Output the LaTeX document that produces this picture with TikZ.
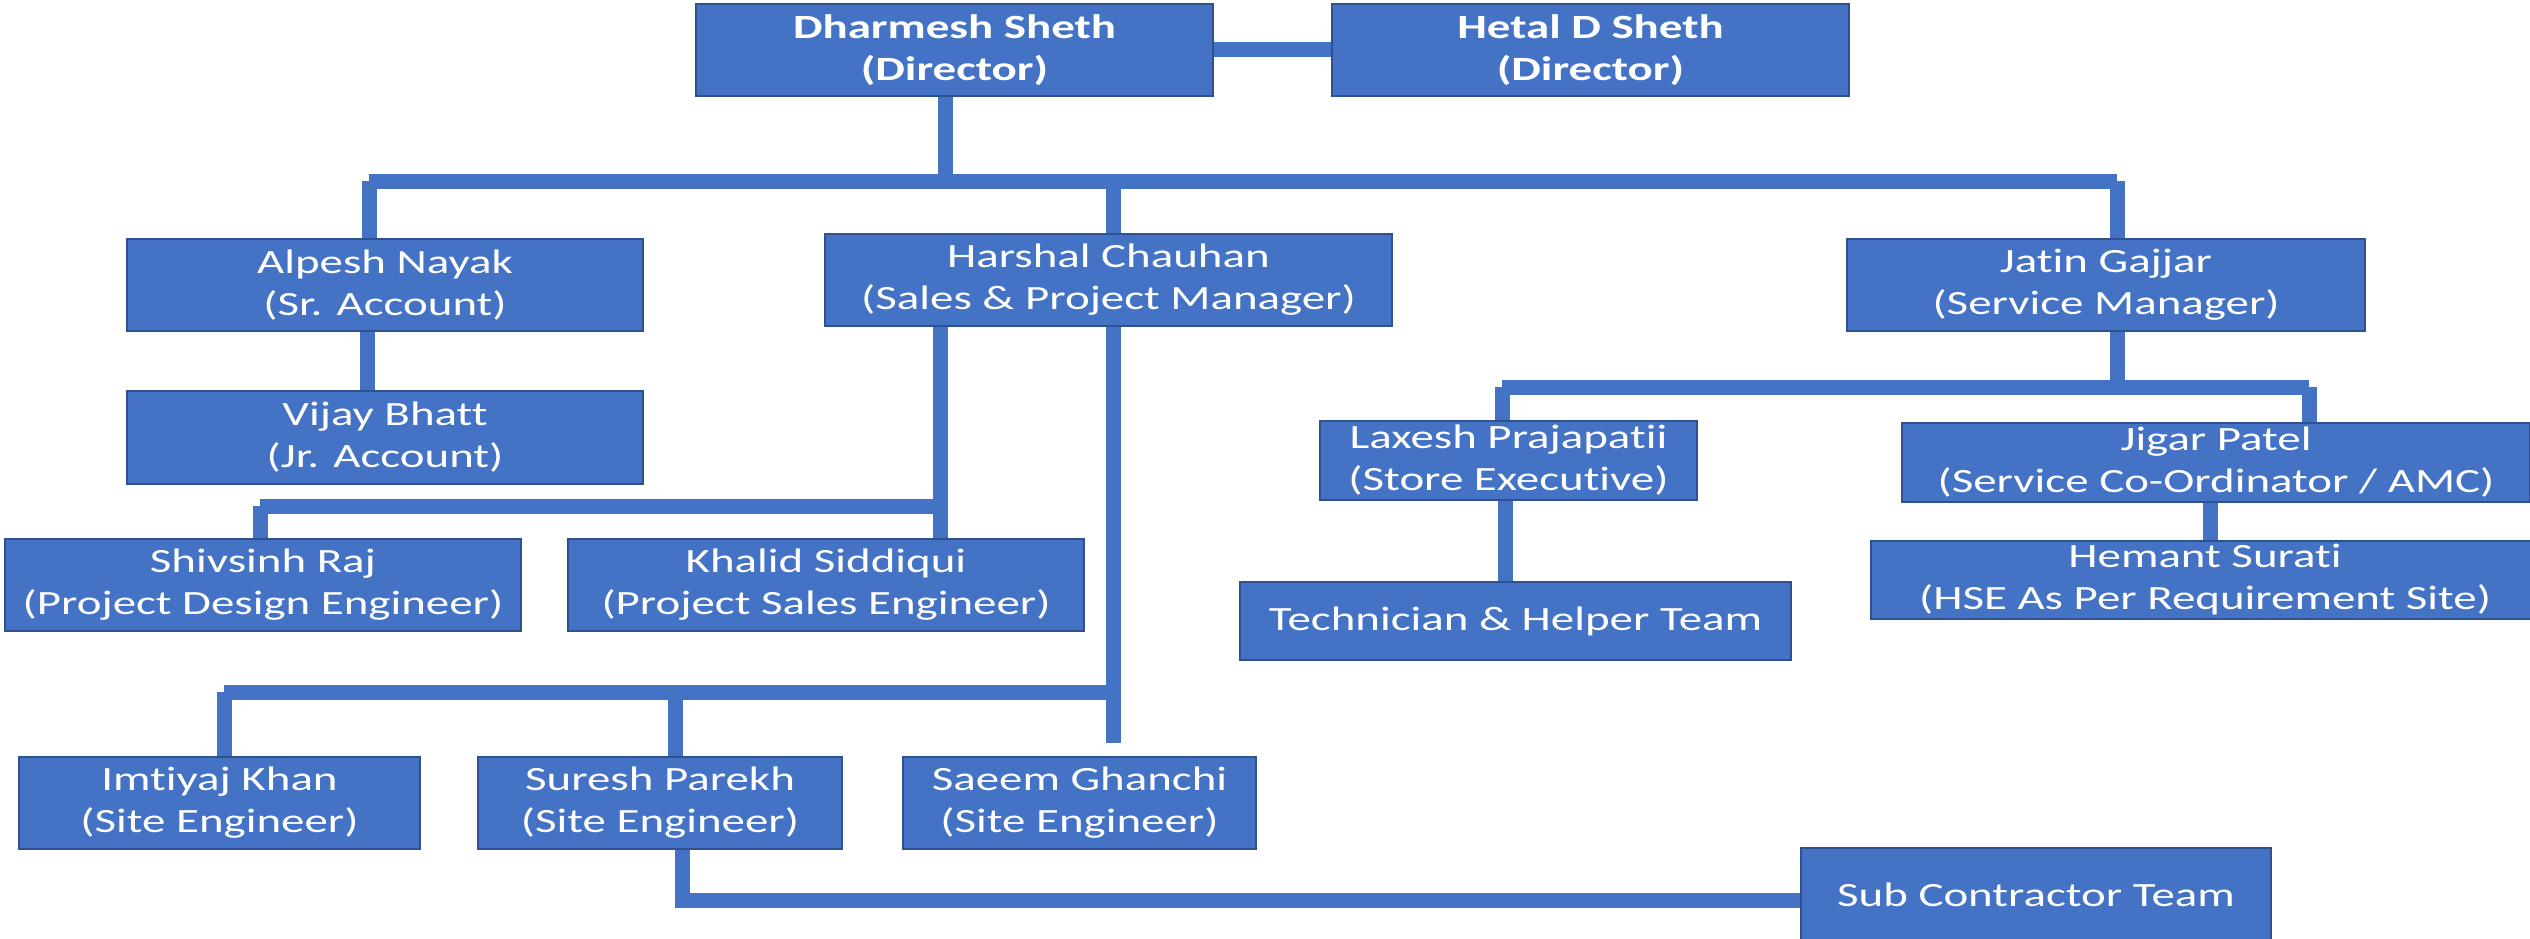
\documentclass[tikz,border=0pt]{standalone}
\usepackage{fontspec}
\setmainfont{Carlito}[FakeStretch=1.38,Ligatures={NoCommon,NoContextual}]
\usetikzlibrary{calc}
\definecolor{boxblue}{HTML}{4472C4}
\definecolor{boxedge}{HTML}{2F528F}
\begin{document}
\begin{tikzpicture}[x=1pt,y=-1pt,
  orgbox/.style={draw=boxedge, fill=boxblue, line width=2pt, text=white, inner sep=0pt,
    align=center, font=\fontsize{34}{42}\selectfont},
  link/.style={draw=boxblue, line width=15pt}]
\useasboundingbox (0,0) rectangle (2530,939);
\clip (0,0) rectangle (2530,939);
\fill[white] (0,0) rectangle (2530,939);

% bus coordinates
\coordinate (b1L) at (369,181);
\coordinate (b1M) at (945,181);
\coordinate (b1H) at (1113,181);
\coordinate (b1R) at (2117,181);
\coordinate (b2L) at (260,506);
\coordinate (b2R) at (940,506);
\coordinate (b3L) at (224,692);
\coordinate (b3M) at (675,692);
\coordinate (b3R) at (1113,692);
\coordinate (hEnd) at (1113,743);
\coordinate (c4) at (682,900);
\coordinate (b4L) at (1502,387);
\coordinate (b4M) at (2117,387);
\coordinate (b4R) at (2309,387);

% connectors
\draw[link] (b1L) -- (b1R);
\draw[link] (b2L) -- (b2R);
\draw[link] (b3L) -- (b3R);
\draw[link] (b4L) -- (b4R);

% nodes
\node[orgbox, minimum width=517pt, minimum height=92pt] (dh) at (954.5,50) {\textbf{Dharmesh Sheth}\\\textbf{(Director)}};
\node[orgbox, minimum width=517pt, minimum height=92pt] (he) at (1590.5,50) {\textbf{Hetal D Sheth}\\\textbf{(Director)}};
\node[orgbox, minimum width=516pt, minimum height=92pt] (al) at (385,285) {Alpesh Nayak\\(Sr. Account)};
\node[orgbox, minimum width=567pt, minimum height=92pt] (ha) at (1108.5,280) {Harshal Chauhan\\(Sales \& Project Manager)};
\node[orgbox, minimum width=518pt, minimum height=92pt] (ja) at (2106,285) {Jatin Gajjar\\(Service Manager)};
\node[orgbox, minimum width=516pt, minimum height=93pt] (vi) at (385,437.5) {Vijay Bhatt\\(Jr. Account)};
\node[orgbox, minimum width=516pt, minimum height=92pt] (sh) at (263,585) {Shivsinh Raj\\(Project Design Engineer)};
\node[orgbox, minimum width=516pt, minimum height=92pt] (kh) at (826,585) {Khalid Siddiqui\\(Project Sales Engineer)};
\node[orgbox, minimum width=377pt, minimum height=79pt] (la) at (1508.5,460.5) {Laxesh Prajapatii\\(Store Executive)};
\node[orgbox, minimum width=628pt, minimum height=79pt] (ji) at (2216,462.5) {Jigar Patel\\(Service Co-Ordinator / AMC)};
\node[orgbox, minimum width=668pt, minimum height=78pt] (hm) at (2205,580) {Hemant Surati\\(HSE As Per Requirement Site)};
\node[orgbox, minimum width=551pt, minimum height=78pt] (te) at (1515.5,621) {Technician \& Helper Team};
\node[orgbox, minimum width=401pt, minimum height=92pt] (im) at (219.5,803) {Imtiyaj Khan\\(Site Engineer)};
\node[orgbox, minimum width=364pt, minimum height=92pt] (su) at (660,803) {Suresh Parekh\\(Site Engineer)};
\node[orgbox, minimum width=353pt, minimum height=92pt] (sa) at (1079.5,803) {Saeem Ghanchi\\(Site Engineer)};
\node[orgbox, minimum width=470pt, minimum height=94pt] (sc) at (2036,895) {Sub Contractor Team};

% connectors from nodes
\draw[link] (dh) -- (he);
\draw[link] (dh.south -| b1M) -- (b1M);
\draw[link] (b1L) -- (al.north -| b1L);
\draw[link] (b1H) -- (ha.north -| b1H);
\draw[link] (b1R) -- (ja.north -| b1R);
\draw[link] ([xshift=-18pt]al.south) -- ([xshift=-18pt]vi.north);
\draw[link] (ha.south -| b2R) -- (b2R);
\draw[link] (b2L) -- (sh.north -| b2L);
\draw[link] (b2R) -- (kh.north -| b2R);
\draw[link] (ha.south -| hEnd) -- (hEnd);
\draw[link] (b3L) -- (im.north -| b3L);
\draw[link] (b3M) -- (su.north -| b3M);
\draw[link] (su.south -| c4) -- (c4) -- (sc.west |- c4);
\draw[link] (ja.south -| b4M) -- (b4M);
\draw[link] (b4L) -- (la.north -| b4L);
\draw[link] (b4R) -- (ji.north -| b4R);
\draw[link] ([xshift=-3.5pt]la.south) -- ([xshift=-10.5pt]te.north);
\draw[link] ([xshift=-6pt]ji.south) -- ([xshift=5pt]hm.north);
\end{tikzpicture}
\end{document}
